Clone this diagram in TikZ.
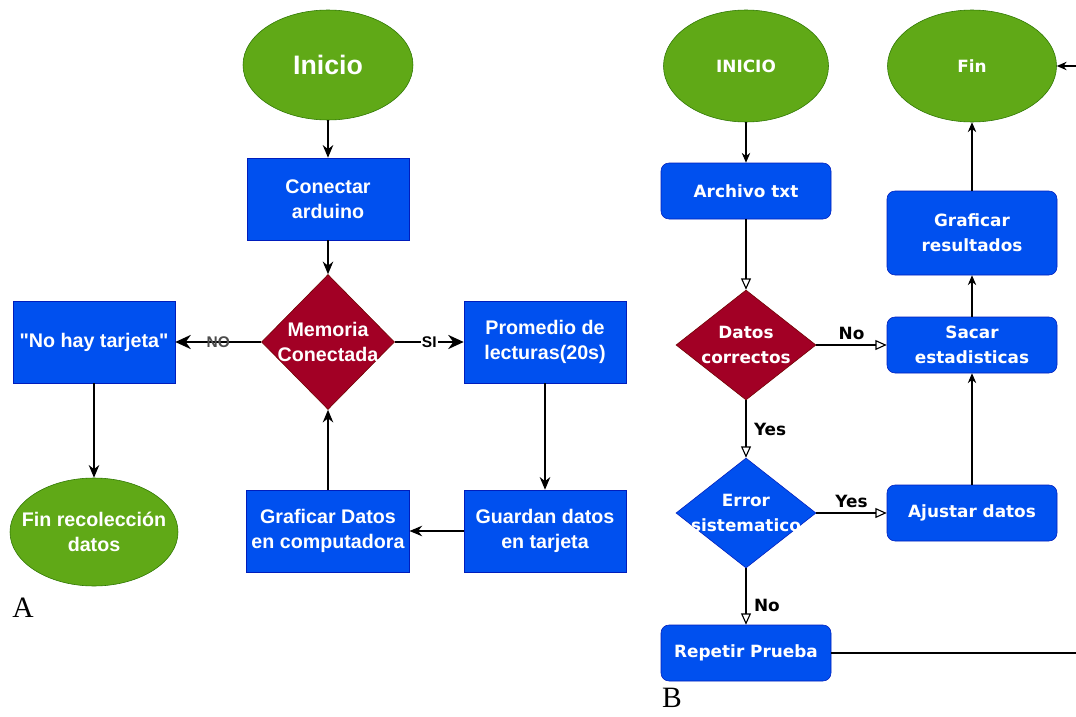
\documentclass[tikz,border=0pt]{standalone}
\usepackage{fontspec}
\setmainfont{Liberation Sans}
\newfontfamily\fuentea{Liberation Sans}
\newfontfamily\fuenteb{DejaVu Sans}
\newfontfamily\fuenteletra{Liberation Serif}
\usepackage{tikz}
\usetikzlibrary{arrows.meta,shapes.geometric,positioning}
\definecolor{verde}{HTML}{60A917}
\definecolor{verdeborde}{HTML}{2D7600}
\definecolor{azul}{HTML}{0050EF}
\definecolor{azulborde}{HTML}{001DBC}
\definecolor{rojo}{HTML}{A20025}
\definecolor{rojoborde}{HTML}{6F0000}
\newcommand{\ctr}[1]{\makebox[0pt]{#1}}
\tikzset{
  textoa/.style={font=\fuentea\bfseries\fontsize{14}{17.5}\selectfont},
  textob/.style={font=\fuenteb\bfseries\fontsize{12}{17.5}\selectfont},
  terminal/.style={ellipse,draw=verdeborde,fill=verde,text=white,align=center,inner sep=0pt},
  caja/.style={rectangle,draw=azulborde,fill=azul,text=white,align=center,textoa,
    minimum width=4.05cm,minimum height=2.05cm},
  cajab/.style={rectangle,rounded corners=0.2cm,draw=azulborde,fill=azul,text=white,align=center,textob,
    minimum width=4.25cm,minimum height=1.4cm},
  decision/.style={diamond,draw=rojoborde,fill=rojo,text=white,align=center,inner sep=0pt},
  flechaa/.style={-{Stealth[length=9pt,width=7.5pt]},line width=1pt},
  flechagruesa/.style={-{Stealth[length=11pt,width=10pt]},line width=2pt},
  flechab/.style={-{Stealth[length=7pt,width=6pt]},line width=0.8pt},
  flechaab/.style={-{Triangle[open,length=8pt,width=7pt]},line width=0.8pt},
  etiqueta/.style={font=\fuenteb\bfseries\fontsize{12}{14}\selectfont,text=black},
  etiquetaa/.style={anchor=center,font=\fuentea\bfseries\fontsize{11}{11}\selectfont,inner sep=1pt}
}

\begin{document}
\begin{tikzpicture}[node distance=3cm,on grid,auto]
   \useasboundingbox[fill=white] (0,0) rectangle (26.9,-17.925);
   % diagrama A
   \node[terminal,minimum width=4.25cm,minimum height=2.75cm,
         font=\fuentea\bfseries\fontsize{19}{22}\selectfont] (ini_a) at (8.2,-1.625) {Inicio};
   \node[caja] (conectar) [below=3.35cm of ini_a] {Conectar\\arduino};
   \node[decision,textoa,minimum width=3.325cm,minimum height=3.375cm] (memoria) [below=3.575cm of conectar]
        {\ctr{Memoria}\\\ctr{Conectada}};
   \node[caja] (notarjeta) [left=5.85cm of memoria] {"No hay tarjeta"};
   \node[caja] (promedio) [right=5.425cm of memoria] {Promedio de\\lecturas(20s)};
   \node[caja] (guardan) [below=4.725cm of promedio] {Guardan datos\\en tarjeta};
   \node[caja] (graficar) [left=5.425cm of guardan] {Graficar Datos\\en computadora};
   \node[terminal,textoa,minimum width=4.2cm,minimum height=2.7cm] (finrec) [below=4.75cm of notarjeta]
        {\ctr{Fin recolección}\\datos};
   \node[font=\fuenteletra\fontsize{21}{21}\selectfont] (letra_a) at (0.575,-15.2) {A};

   \path[flechaa]
    (ini_a) edge (conectar)
    (conectar) edge (memoria)
    (promedio) edge (guardan)
    (guardan) edge (graficar)
    (graficar) edge (memoria)
    (notarjeta) edge (finrec);
   \draw[flechagruesa] (memoria) -- node[etiquetaa,text=black!70] {NO} (notarjeta);
   \draw[flechagruesa] (memoria) -- node[etiquetaa,fill=white] {SI} (promedio);

   % diagrama B
   \node[terminal,textob,minimum width=4.125cm,minimum height=2.8cm] (ini_b) at (18.65,-1.65) {INICIO};
   \node[terminal,textob,minimum width=4.225cm,minimum height=2.8cm] (fin) [right=5.65cm of ini_b] {Fin};
   \node[cajab] (archivo) [below=3.125cm of ini_b] {Archivo txt};
   \node[decision,textob,minimum width=3.5cm,minimum height=2.75cm] (datos) [below=3.85cm of archivo]
        {\ctr{Datos}\\\ctr{correctos}};
   \node[decision,textob,fill=azul,draw=azulborde,minimum width=3.5cm,minimum height=2.75cm] (error) [below=4.2cm of datos]
        {\ctr{Error}\\\ctr{sistematico}};
   \node[cajab] (repetir) [below=3.5cm of error] {Repetir Prueba};
   \node[cajab] (sacar) [right=5.65cm of datos] {Sacar\\estadisticas};
   \node[cajab] (ajustar) [right=5.65cm of error] {Ajustar datos};
   \node[cajab,minimum height=2.1cm] (grafres) [above=2.8cm of sacar] {Graficar\\resultados};
   \node[font=\fuenteletra\fontsize{21}{21}\selectfont] (letra_b) at (16.8,-17.45) {B};
   \coordinate (borde) at (27.1,0);

   \path[flechab]
    (ini_b) edge (archivo)
    (ajustar) edge (sacar)
    (sacar) edge (grafres)
    (grafres) edge (fin);
   \path[flechaab]
    (archivo) edge (datos)
    (datos) edge node[etiqueta,above] {No} (sacar)
            edge node[etiqueta,right,xshift=2pt] {Yes} (error)
    (error) edge node[etiqueta,above] {Yes} (ajustar)
            edge node[etiqueta,right,pos=0.65,xshift=2pt] {No} (repetir);
   \draw[flechab] (repetir) -- (repetir -| borde) -- (fin -| borde) -- (fin);
\end{tikzpicture}
\end{document}
